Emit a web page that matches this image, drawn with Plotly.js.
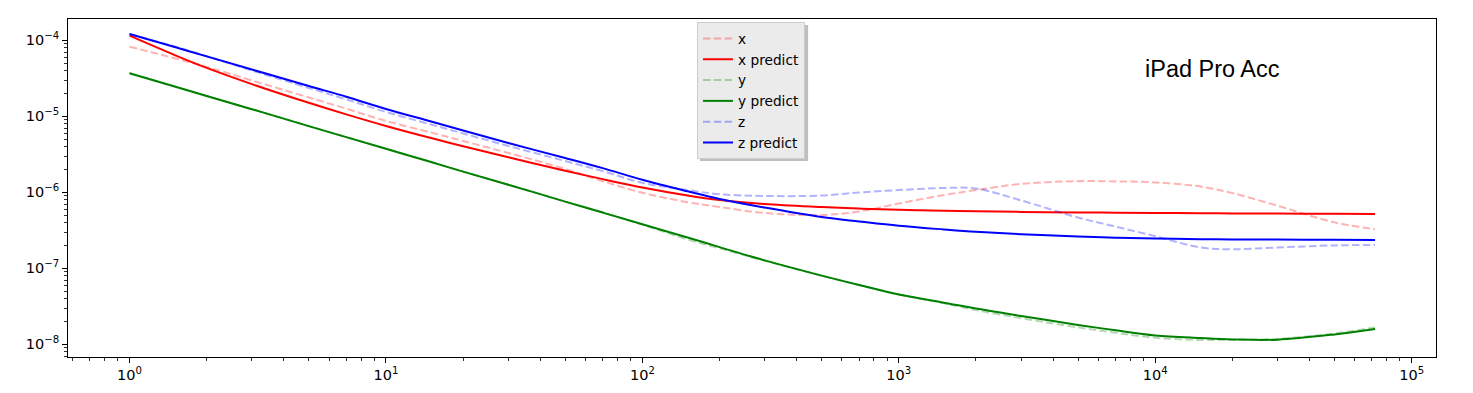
<!DOCTYPE html>
<html>
<head>
<meta charset="utf-8">
<script src="https://cdn.plot.ly/plotly-3.0.1.min.js"></script>
<style>html,body{margin:0;padding:0;background:#fff;}#chart{width:1473px;height:393px;}</style>
</head>
<body>
<div id="chart"></div>
<script>
const tau = [1, 1.5, 2, 3, 5, 7, 10, 15, 20, 30, 50, 70, 100, 150, 200, 300, 500, 700, 1000, 1500, 2000, 3000, 5000, 7000, 10000, 15000, 20000, 30000, 50000, 72000];

const xAvar = [8.24e-5, 5.80e-5, 4.47e-5, 2.96e-5, 1.77e-5, 1.26e-5, 8.70e-6, 6.12e-6, 4.73e-6, 3.29e-6, 2.03e-6, 1.40e-6, 9.85e-7, 7.41e-7, 6.41e-7, 5.34e-7, 5.03e-7, 5.59e-7, 7.12e-7, 9.21e-7, 1.07e-6, 1.29e-6, 1.40e-6, 1.39e-6, 1.35e-6, 1.19e-6, 9.76e-7, 6.66e-7, 4.02e-7, 3.26e-7];
const xPred = [1.149e-4, 6.39e-5, 4.33e-5, 2.65e-5, 1.505e-5, 1.06e-5, 7.47e-6, 5.17e-6, 4.03e-6, 2.89e-6, 1.92e-6, 1.49e-6, 1.157e-6, 9.08e-7, 7.92e-7, 7.02e-7, 6.41e-7, 6.10e-7, 5.89e-7, 5.71e-7, 5.62e-7, 5.52e-7, 5.44e-7, 5.39e-7, 5.34e-7, 5.31e-7, 5.28e-7, 5.245e-7, 5.21e-7, 5.18e-7];
const yAvar = [3.68e-5, 2.46e-5, 1.85e-5, 1.24e-5, 7.43e-6, 5.32e-6, 3.74e-6, 2.50e-6, 1.87e-6, 1.26e-6, 7.54e-7, 5.41e-7, 3.75e-7, 2.40e-7, 1.83e-7, 1.26e-7, 8.01e-8, 6.03e-8, 4.52e-8, 3.47e-8, 2.82e-8, 2.21e-8, 1.67e-8, 1.42e-8, 1.22e-8, 1.14e-8, 1.15e-8, 1.18e-8, 1.39e-8, 1.67e-8];
const yPred = [3.68e-5, 2.46e-5, 1.85e-5, 1.24e-5, 7.43e-6, 5.32e-6, 3.74e-6, 2.50e-6, 1.87e-6, 1.26e-6, 7.54e-7, 5.41e-7, 3.79e-7, 2.54e-7, 1.90e-7, 1.27e-7, 8.01e-8, 6.03e-8, 4.52e-8, 3.53e-8, 2.95e-8, 2.36e-8, 1.80e-8, 1.53e-8, 1.31e-8, 1.21e-8, 1.16e-8, 1.15e-8, 1.35e-8, 1.59e-8];
const zAvar = [1.20e-4, 8.29e-5, 6.18e-5, 4.01e-5, 2.36e-5, 1.67e-5, 1.14e-5, 7.80e-6, 5.94e-6, 4.07e-6, 2.58e-6, 1.90e-6, 1.33e-6, 1.07e-6, 9.44e-7, 8.94e-7, 9.08e-7, 9.94e-7, 1.07e-6, 1.14e-6, 1.12e-6, 7.82e-7, 4.65e-7, 3.54e-7, 2.65e-7, 1.88e-7, 1.78e-7, 1.88e-7, 2.00e-7, 2.03e-7];
const zPred = [1.21e-4, 8.14e-5, 6.14e-5, 4.13e-5, 2.50e-5, 1.81e-5, 1.25e-5, 8.54e-6, 6.50e-6, 4.45e-6, 2.83e-6, 2.08e-6, 1.46e-6, 1.03e-6, 8.16e-7, 6.29e-7, 4.73e-7, 4.13e-7, 3.62e-7, 3.24e-7, 3.02e-7, 2.81e-7, 2.62e-7, 2.53e-7, 2.46e-7, 2.42e-7, 2.40e-7, 2.39e-7, 2.37e-7, 2.36e-7];

const seriesNames = ['x', 'x predict', 'y', 'y predict', 'z', 'z predict'];
const chartTitle = 'iPad Pro Acc';

const xTickVals = [1, 10, 100, 1000, 10000, 100000];
const xTickText = ['10<sup>0</sup>', '10<sup>1</sup>', '10<sup>2</sup>', '10<sup>3</sup>', '10<sup>4</sup>', '10<sup>5</sup>'];
const yTickVals = [1e-8, 1e-7, 1e-6, 1e-5, 1e-4];
const yTickText = ['10<sup>\u22128</sup>', '10<sup>\u22127</sup>', '10<sup>\u22126</sup>', '10<sup>\u22125</sup>', '10<sup>\u22124</sup>'];

function minorVals(e0, e1) {
  const v = [];
  for (let e = e0; e <= e1; e++) for (let d = 2; d <= 9; d++) v.push(d * Math.pow(10, e));
  return v;
}

const dashStyle = '7.5px,3.3px';
function tr(y, name, color, dashed) {
  return {
    x: tau, y: y, name: name, type: 'scatter', mode: 'lines',
    line: {color: color, width: 2, dash: dashed ? dashStyle : 'solid', shape: 'spline', smoothing: 1}
  };
}

const data = [
  tr(xAvar, seriesNames[0], 'rgba(255,0,0,0.3)', true),
  tr(xPred, seriesNames[1], '#ff0000', false),
  tr(yAvar, seriesNames[2], 'rgba(0,128,0,0.3)', true),
  tr(yPred, seriesNames[3], '#008000', false),
  tr(zAvar, seriesNames[4], 'rgba(0,0,255,0.3)', true),
  tr(zPred, seriesNames[5], '#0000ff', false)
];

const axisCommon = {
  type: 'log', showgrid: false, zeroline: false,
  showline: true, mirror: true, linecolor: '#000', linewidth: 1,
  ticks: 'outside', ticklen: 5, tickwidth: 1, tickcolor: '#000',
  tickmode: 'array',
  tickfont: {family: 'DejaVu Sans', size: 14.5, color: '#000'}
};

const layout = {
  width: 1473, height: 393,
  margin: {l: 68, r: 37, t: 19, b: 36},
  paper_bgcolor: '#ffffff', plot_bgcolor: '#ffffff',
  showlegend: true,
  xaxis: Object.assign({}, axisCommon, {
    range: [-0.24, 5.095],
    tickvals: xTickVals, ticktext: xTickText,
    minor: {tickmode: 'array', tickvals: minorVals(-1, 5), ticks: 'outside', ticklen: 3, tickcolor: '#000', tickwidth: 0.8, showgrid: false}
  }),
  yaxis: Object.assign({}, axisCommon, {
    range: [-8.167, -3.72],
    tickvals: yTickVals, ticktext: yTickText,
    minor: {tickmode: 'array', tickvals: minorVals(-9, -4), ticks: 'outside', ticklen: 3, tickcolor: '#000', tickwidth: 0.8, showgrid: false}
  }),
  legend: {
    x: 0.4598, y: 0.991, xanchor: 'left', yanchor: 'top',
    bgcolor: '#ebebeb', bordercolor: '#cccccc', borderwidth: 1,
    font: {family: 'DejaVu Sans', size: 13.7, color: '#000'},
    itemwidth: 30, tracegroupgap: 0
  },
  shapes: [{
    type: 'rect', xref: 'paper', yref: 'paper', layer: 'above',
    x0: 0.462, x1: 0.541, y0: 0.580, y1: 0.982,
    fillcolor: 'rgba(128,128,128,0.5)', line: {width: 0}
  }],
  annotations: [{
    text: chartTitle, xref: 'paper', yref: 'paper',
    x: 0.786, y: 0.852, xanchor: 'left', yanchor: 'middle',
    showarrow: false,
    font: {family: 'Liberation Sans, Arial, sans-serif', size: 23.5, color: '#000'}
  }]
};

Plotly.newPlot('chart', data, layout, {displayModeBar: false, staticPlot: true});
</script>
</body>
</html>
